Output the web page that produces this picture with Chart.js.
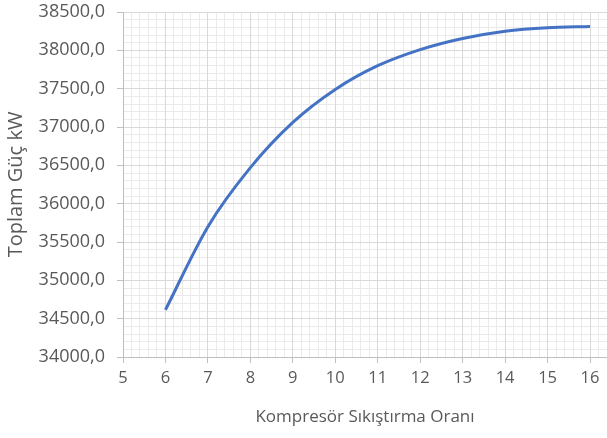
<!DOCTYPE html>
<html>
<head>
<meta charset="utf-8">
<script src="https://cdn.jsdelivr.net/npm/chart.js@4.4.0/dist/chart.umd.min.js"></script>
<style>
  body { margin: 0; background: #fff; }
</style>
</head>
<body>
<canvas id="myChart" width="607" height="438"></canvas>
<script>
// compression ratio vs total power
var oranlar = [6, 7, 8, 9, 10, 11, 12, 13, 14, 15, 16];
var guc = [34615, 35700, 36470, 37060, 37490, 37800, 38010, 38155, 38250, 38295, 38310];
var xTicks = [5, 6, 7, 8, 9, 10, 11, 12, 13, 14, 15, 16];
var yMin = 34000, yMax = 38500, yStep = 500;

var textColor = '#595959';
var fontFam = "'Open Sans', sans-serif";

var ctx = document.getElementById('myChart').getContext('2d');

var myChart = new Chart(ctx, {
    type: 'line',
    data: {
        datasets: [{
            data: oranlar.map(function (x, i) { return { x: x, y: guc[i] }; }),
            borderColor: '#4472C4',
            borderWidth: 3,
            pointRadius: 0,
            fill: false,
            tension: 0.3
        }]
    },
    options: {
        responsive: false,
        animation: false,
        layout: { padding: { top: 12, right: 0, left: 0, bottom: 0 } },
        plugins: {
            legend: { display: false },
            tooltip: { enabled: false }
        },
        scales: {
            xMinor: {
                type: 'linear', position: 'bottom', min: 5, max: 16.4, z: -1,
                ticks: { display: false, stepSize: 0.2, maxTicksLimit: 1000 },
                grid: { color: '#EAEAEA', drawTicks: false },
                border: { display: false }
            },
            yMinor: {
                type: 'linear', position: 'left', min: yMin, max: yMax, z: -1,
                ticks: { display: false, stepSize: 100, maxTicksLimit: 1000 },
                grid: { color: '#EAEAEA', drawTicks: false },
                border: { display: false }
            },
            x: {
                type: 'linear',
                min: 5,
                max: 16.4,
                afterBuildTicks: function (s) {
                    s.ticks = xTicks.map(function (v) { return { value: v }; });
                },
                afterFit: function (s) {
                    s.height = 81;
                    s.paddingLeft = 0;
                    s.paddingRight = 0;
                },
                ticks: {
                    color: textColor,
                    font: { family: fontFam, size: 16.5 },
                    padding: 5,
                    maxRotation: 0
                },
                grid: { color: '#D9D9D9', tickLength: 6, tickColor: '#BFBFBF' },
                border: { color: '#BFBFBF' },
                title: {
                    display: true,
                    text: 'Kompresör Sıkıştırma Oranı',
                    color: textColor,
                    font: { family: fontFam, size: 17 },
                    padding: { top: 4, bottom: 11 }
                }
            },
            y: {
                min: yMin,
                max: yMax,
                afterFit: function (s) {
                    s.width = 123;
                    s.paddingTop = 0;
                    s.paddingBottom = 0;
                },
                ticks: {
                    stepSize: yStep,
                    color: textColor,
                    font: { family: fontFam, size: 18 },
                    padding: 12,
                    callback: function (v) { return v.toFixed(1).replace('.', ','); }
                },
                grid: { color: '#D9D9D9', tickLength: 6, tickColor: '#BFBFBF' },
                border: { color: '#BFBFBF' },
                title: {
                    display: true,
                    text: 'Toplam Güç kW',
                    color: textColor,
                    font: { family: fontFam, size: 20 },
                    padding: { top: 4, bottom: 4 }
                }
            }
        }
    }
});
</script>
</body>
</html>
